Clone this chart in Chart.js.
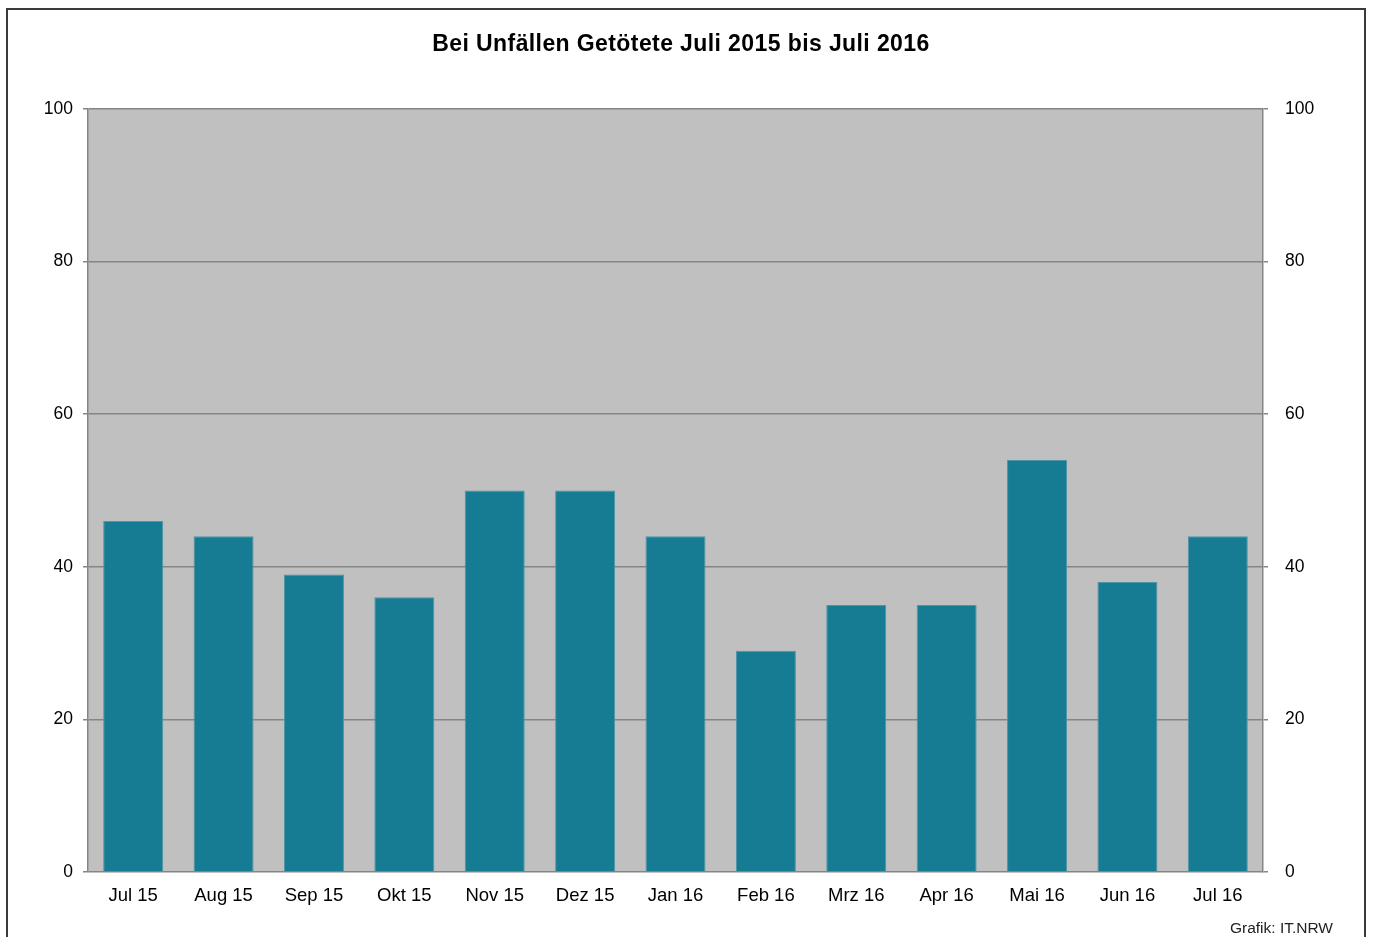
<!DOCTYPE html>
<html>
<head>
<meta charset="utf-8">
<script src="https://cdn.jsdelivr.net/npm/chart.js@4.4.0/dist/chart.umd.min.js"></script>
<style>
  html, body { margin: 0; padding: 0; background: #fff; overflow: hidden; }
  canvas { display: block; }
</style>
</head>
<body>
<canvas id="c" width="1373" height="937"></canvas>
<script>
const categories = ["Jul 15","Aug 15","Sep 15","Okt 15","Nov 15","Dez 15","Jan 16","Feb 16","Mrz 16","Apr 16","Mai 16","Jun 16","Jul 16"];
const killed = [46, 44, 39, 36, 50, 50, 44, 29, 35, 35, 54, 38, 44];
const yMin = 0, yMax = 100, yStep = 20;
const titleText = "Bei Unfällen Getötete Juli 2015 bis Juli 2016";
const sourceText = "Grafik: IT.NRW";

const FONT = "'Liberation Sans', Arial, sans-serif";

const decor = {
  id: 'decor',
  beforeDraw(chart) {
    const ctx = chart.ctx, a = chart.chartArea;
    ctx.save();
    ctx.fillStyle = '#fff';
    ctx.fillRect(0, 0, chart.width, chart.height);
    ctx.fillStyle = '#C0C0C0';
    ctx.fillRect(a.left, a.top, a.right - a.left, a.bottom - a.top);
    ctx.restore();
  },
  afterDraw(chart) {
    const ctx = chart.ctx;
    ctx.save();
    ctx.strokeStyle = '#3a3a3a';
    ctx.lineWidth = 2;
    ctx.strokeRect(7, 9, 1358, 940);
    ctx.fillStyle = '#000';
    ctx.font = "bold 23px " + FONT;
    if ('letterSpacing' in ctx) ctx.letterSpacing = '0.4px';
    ctx.textAlign = 'center';
    ctx.textBaseline = 'alphabetic';
    ctx.fillText(titleText, 681, 50.5);
    if ('letterSpacing' in ctx) ctx.letterSpacing = '0px';
    ctx.font = "15.5px " + FONT;
    ctx.fillStyle = '#222';
    ctx.textAlign = 'right';
    ctx.textBaseline = 'middle';
    ctx.fillText(sourceText, 1333, 929);
    ctx.restore();
  }
};

new Chart(document.getElementById('c'), {
  type: 'bar',
  data: {
    labels: categories,
    datasets: [{
      data: killed,
      backgroundColor: '#167C94',
      borderColor: '#4f95a7',
      borderWidth: 1,
      barPercentage: 0.664,
      categoryPercentage: 1.0
    }]
  },
  options: {
    responsive: false,
    animation: false,
    layout: { padding: { top: 109, left: 0, right: 0, bottom: 0 } },
    plugins: { legend: { display: false }, title: { display: false }, tooltip: { enabled: false } },
    scales: {
      x: {
        grid: { display: false },
        border: { display: false },
        ticks: { color: '#000', font: { family: FONT, size: 18.5 }, padding: 5, maxRotation: 0 },
        afterFit(s) { s.height = 65; }
      },
      y: {
        position: 'left',
        min: yMin, max: yMax,
        ticks: { stepSize: yStep, color: '#000', font: { family: FONT, size: 17.5 }, padding: 10 },
        grid: { color: '#858585', lineWidth: 1.5, tickLength: 5 },
        border: { color: '#858585', width: 1.5 },
        afterFit(s) { s.width = 88; }
      },
      y2: {
        position: 'right',
        min: yMin, max: yMax,
        ticks: { stepSize: yStep, color: '#000', font: { family: FONT, size: 17.5 }, padding: 17 },
        grid: { drawOnChartArea: false, color: '#858585', lineWidth: 1.5, tickLength: 5 },
        border: { color: '#858585', width: 1.5 },
        afterFit(s) { s.width = 110; }
      }
    }
  },
  plugins: [decor]
});
</script>
</body>
</html>
